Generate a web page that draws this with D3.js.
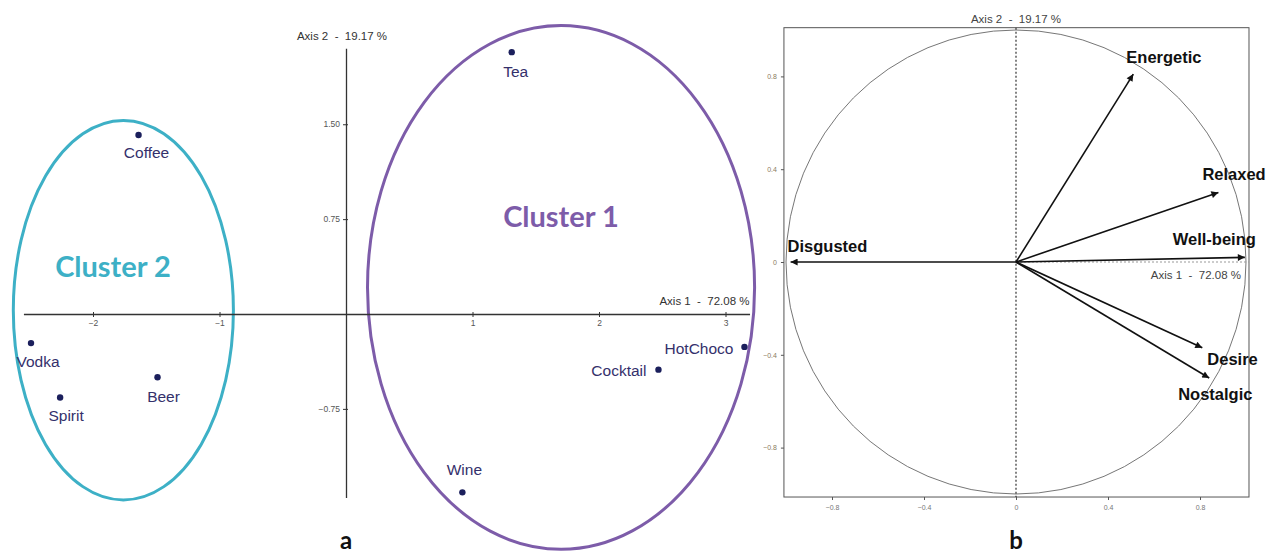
<!DOCTYPE html>
<html><head><meta charset="utf-8">
<script src="https://cdn.jsdelivr.net/npm/d3@7/dist/d3.min.js"></script>
<style>body{margin:0;background:#fff}svg{display:block}</style>
</head><body>
<svg id="chart" width="1288" height="555"></svg>
<script>
// ---------- DATA ----------
const drinks = ["Tea","Coffee","Vodka","Spirit","Beer","Wine","Cocktail","HotChoco"];
const drinkAxis1 = [1.31,-1.64,-2.49,-2.26,-1.49,0.92,2.47,3.15];
const drinkAxis2 = [2.07,1.415,-0.23,-0.66,-0.50,-1.41,-0.44,-0.26];
const clusterNames = ["Cluster 1","Cluster 2"];
const clusterCx = [1.70,-1.76];
const clusterCy = [0.21,0.03];
const clusterRx = [1.53,0.87];
const clusterRy = [2.07,1.50];
const aXTicks = [-2,-1,1,2,3];
const aYTicks = [1.5,0.75,-0.75];
const emotions = ["Energetic","Relaxed","Well-being","Disgusted","Desire","Nostalgic"];
const emoAxis1 = [0.51,0.88,0.995,-0.98,0.81,0.84];
const emoAxis2 = [0.81,0.30,0.02,0.0,-0.37,-0.50];
const bTicks = [-0.8,-0.4,0,0.4,0.8];
const axis1Title = "Axis 1  -  72.08 %";
const axis2Title = "Axis 2  -  19.17 %";

// ---------- LAYOUT / STYLE ----------
const svg = d3.select("#chart");
const pxA = 126.5;
const xA = d3.scaleLinear().domain([-2.55, 3.19]).range([346 - 2.55*pxA, 346 + 3.19*pxA]);
const yA = d3.scaleLinear().domain([-1.45, 2.10]).range([314 + 1.45*pxA, 314 - 2.10*pxA]);

const teal = "#3db0c6", purple = "#7d5ca9";
const clusterColor = {"Cluster 1": purple, "Cluster 2": teal};

const gA = svg.append("g");
clusterNames.forEach((n,i)=>{
  gA.append("ellipse")
    .attr("cx", xA(clusterCx[i])).attr("cy", yA(clusterCy[i]))
    .attr("rx", xA(clusterRx[i]) - xA(0)).attr("ry", yA(0) - yA(clusterRy[i]))
    .attr("fill","none").attr("stroke", clusterColor[n]).attr("stroke-width",3);
});
const axA1 = d3.axisBottom(xA).tickValues(aXTicks).tickFormat(d3.format("d")).tickSizeInner(3).tickSizeOuter(0).tickPadding(3);
const gx = gA.append("g").attr("transform",`translate(0,${yA(0)})`).call(axA1);
gx.select(".domain").attr("stroke","#333").attr("stroke-width",1.3);
gx.selectAll(".tick line").attr("stroke","#333").attr("y1",-2);
gx.selectAll(".tick text").attr("font-family","Liberation Sans, Arial").attr("font-size",8.5).attr("fill","#555");
const axA2 = d3.axisLeft(yA).tickValues(aYTicks).tickFormat(d3.format(".2f")).tickSizeInner(3).tickSizeOuter(0).tickPadding(3);
const gy = gA.append("g").attr("transform",`translate(${xA(0)},0)`).call(axA2);
gy.select(".domain").attr("stroke","#333").attr("stroke-width",1.3);
gy.selectAll(".tick line").attr("stroke","#333").attr("x1",2);
gy.selectAll(".tick text").attr("font-family","Liberation Sans, Arial").attr("font-size",8.5).attr("fill","#555");

gA.append("text").attr("x",xA(0)-4).attr("y",40).attr("text-anchor","middle")
  .attr("font-family","Liberation Sans, Arial").attr("font-size",11.5).attr("fill","#333")
  .style("white-space","pre").text(axis2Title);
gA.append("text").attr("x",xA(3.19)).attr("y",yA(0)-9).attr("text-anchor","end")
  .attr("font-family","Liberation Sans, Arial").attr("font-size",11.5).attr("fill","#333")
  .style("white-space","pre").text(axis1Title);

const clusterLabelPos = {"Cluster 1":[561,227],"Cluster 2":[113,277]};
clusterNames.forEach(n=>{
  gA.append("text").attr("x",clusterLabelPos[n][0]).attr("y",clusterLabelPos[n][1])
    .attr("text-anchor","middle").attr("font-family","Lato, 'Open Sans', sans-serif")
    .attr("font-weight","bold").attr("font-size",29).attr("fill",clusterColor[n]).text(n);
});

const dLab = {Tea:[4,25,"middle"],Coffee:[8,23,"middle"],Vodka:[7,24,"middle"],Spirit:[6,24,"middle"],
  Beer:[6,25,"middle"],Wine:[2,-17,"middle"],Cocktail:[-12,6,"end"],HotChoco:[-11,7,"end"]};
drinks.forEach((d,i)=>{
  const px = xA(drinkAxis1[i]), py = yA(drinkAxis2[i]);
  gA.append("circle").attr("cx",px).attr("cy",py).attr("r",3.2).attr("fill","#1b1f5c");
  gA.append("text").attr("x",px+dLab[d][0]).attr("y",py+dLab[d][1]).attr("text-anchor",dLab[d][2])
    .attr("font-family","Liberation Sans, Arial").attr("font-size",15.5).attr("fill","#34306b").text(d);
});
gA.append("text").attr("x",xA(0)).attr("y",549).attr("text-anchor","middle")
  .attr("font-family","Lato, sans-serif").attr("font-weight","bold").attr("font-size",24).attr("fill","#111").text("a");

// ---------- PANEL B ----------
const gB = svg.append("g");
const xB = d3.scaleLinear().domain([-1,1]).range([1016-230, 1016+230]);
const yB = d3.scaleLinear().domain([-1,1]).range([262+232, 262-232]);
const bx0 = xB(-1.009), bx1 = xB(1.013), by0 = yB(1.01), by1 = yB(-1.013);
gB.append("rect").attr("x",bx0).attr("y",by0).attr("width",bx1-bx0).attr("height",by1-by0)
  .attr("fill","none").attr("stroke","#555").attr("stroke-width",1);
gB.append("ellipse").attr("cx",xB(0)).attr("cy",yB(0)).attr("rx",xB(1)-xB(0)).attr("ry",yB(0)-yB(1))
  .attr("fill","none").attr("stroke","#666").attr("stroke-width",0.9);
gB.append("line").attr("x1",xB(0)).attr("x2",xB(0)).attr("y1",by0).attr("y2",by1)
  .attr("stroke","#333").attr("stroke-width",1.2).attr("stroke-dasharray","2,2");
gB.append("line").attr("x1",xB(0)).attr("x2",bx1).attr("y1",yB(0)).attr("y2",yB(0))
  .attr("stroke","#999").attr("stroke-width",1).attr("stroke-dasharray","2,2");

const fmtB = d=> d===0 ? "0" : d3.format(".1f")(d);
const axB1 = d3.axisBottom(xB).tickValues(bTicks).tickFormat(fmtB).tickSizeInner(3).tickSizeOuter(0).tickPadding(5);
const gbx = gB.append("g").attr("transform",`translate(0,${by1})`).call(axB1);
gbx.select(".domain").remove();
gbx.selectAll(".tick line").attr("stroke","#555");
gbx.selectAll(".tick text").attr("font-family","Liberation Sans, Arial").attr("font-size",7).attr("fill","#777");
const axB2 = d3.axisLeft(yB).tickValues(bTicks).tickFormat(fmtB).tickSizeInner(3).tickSizeOuter(0).tickPadding(4);
const gby = gB.append("g").attr("transform",`translate(${bx0},0)`).call(axB2);
gby.select(".domain").remove();
gby.selectAll(".tick line").attr("stroke","#555");
gby.selectAll(".tick text").attr("font-family","Liberation Sans, Arial").attr("font-size",7).attr("fill","#8a7a60");

gB.append("text").attr("x",xB(0)).attr("y",23).attr("text-anchor","middle")
  .attr("font-family","Liberation Sans, Arial").attr("font-size",11.5).attr("fill","#444")
  .style("white-space","pre").text(axis2Title);
gB.append("text").attr("x",bx1-8).attr("y",yB(0)+17).attr("text-anchor","end")
  .attr("font-family","Liberation Sans, Arial").attr("font-size",11.5).attr("fill","#444")
  .style("white-space","pre").text(axis1Title);

svg.append("defs").append("marker").attr("id","arrow").attr("viewBox","0 0 10 10")
  .attr("refX",10).attr("refY",5).attr("markerWidth",9).attr("markerHeight",7)
  .attr("markerUnits","userSpaceOnUse").attr("orient","auto")
  .append("path").attr("d","M0,0 L10,5 L0,10 Z").attr("fill","#111");

const eLab = {Energetic:[-7,-11,"start"],Relaxed:[-16,-12,"start"],"Well-being":[11,-12,"end"],
  Disgusted:[-3,-10,"start"],Desire:[5,17,"start"],Nostalgic:[-31,22,"start"]};
emotions.forEach((e,i)=>{
  const tx = xB(emoAxis1[i]), ty = yB(emoAxis2[i]);
  gB.append("line").attr("x1",xB(0)).attr("y1",yB(0)).attr("x2",tx).attr("y2",ty)
    .attr("stroke","#111").attr("stroke-width",1.6).attr("marker-end","url(#arrow)");
  gB.append("text").attr("x",tx+eLab[e][0]).attr("y",ty+eLab[e][1]).attr("text-anchor",eLab[e][2])
    .attr("font-family","Liberation Sans, Arial").attr("font-weight","bold").attr("font-size",16.5)
    .attr("fill","#111").text(e);
});
gB.append("text").attr("x",xB(0)).attr("y",549).attr("text-anchor","middle")
  .attr("font-family","Lato, sans-serif").attr("font-weight","bold").attr("font-size",24).attr("fill","#111").text("b");
</script>
</body></html>
